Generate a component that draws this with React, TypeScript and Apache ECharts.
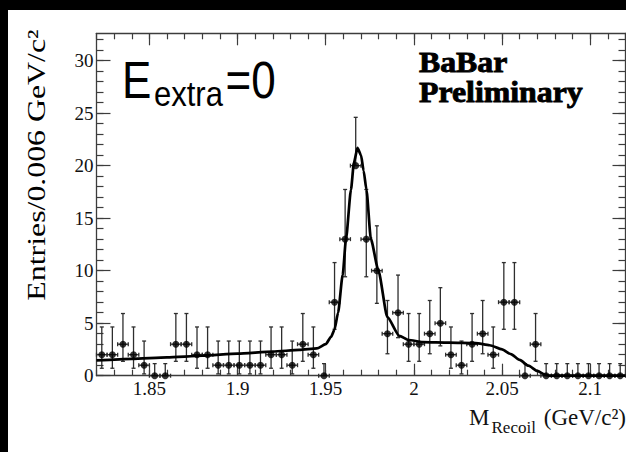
import { useEffect, useRef } from "react";
import * as echarts from "echarts";

// ---- data ----
const BIN_WIDTH = 0.006;
const BIN_CENTERS = [
  1.823, 1.829, 1.835, 1.841, 1.847, 1.853, 1.859, 1.865, 1.871, 1.877,
  1.883, 1.889, 1.895, 1.901, 1.907, 1.913, 1.919, 1.925, 1.931, 1.937,
  1.943, 1.949, 1.955, 1.961, 1.967, 1.973, 1.979, 1.985, 1.991, 1.997,
  2.003, 2.009, 2.015, 2.021, 2.027, 2.033, 2.039, 2.045, 2.051, 2.057,
  2.063, 2.069, 2.075, 2.081, 2.087, 2.093, 2.099, 2.105, 2.111, 2.117,
];
const COUNTS = [
  2, 2, 3, 2, 1, 0, 0, 3, 3, 2,
  2, 1, 1, 1, 1, 1, 2, 2, 1, 3,
  2, 0, 7, 13, 20, 13, 10, 4, 6, 3,
  3, 4, 5, 2, 1, 3, 4, 2, 7, 7,
  0, 3, 0, 0, 0, 0, 0, 0, 0, 0,
];
// error-bar edges for each count that occurs
const ERR_COUNT = [0, 1, 2, 3, 4, 5, 6, 7, 10, 13, 20];
const ERR_LOW = [0, 0.17, 0.71, 1.37, 2.09, 2.84, 3.62, 4.42, 6.89, 9.42, 20];
const ERR_HIGH = [1.15, 3.3, 4.64, 5.92, 7.16, 8.38, 9.58, 10.77, 14.27, 17.73, 24.6];

// fitted curve
const FIT_X = [
  1.82, 1.84, 1.86, 1.88, 1.9, 1.92, 1.935, 1.945, 1.95, 1.953, 1.955, 1.957,
  1.9596, 1.9615, 1.9643, 1.966, 1.968, 1.97, 1.9715, 1.9731, 1.9756, 1.9799,
  1.9849, 1.9917, 1.997, 2.005, 2.02, 2.035, 2.043, 2.05, 2.055, 2.06, 2.065,
  2.07, 2.0745, 2.077, 2.12,
];
const FIT_Y = [
  1.45, 1.6, 1.75, 1.9, 2.1, 2.3, 2.45, 2.6, 3.0, 3.7, 4.4, 6.0,
  9.6, 13.0, 17.7, 20.3, 21.7, 21.0, 19.5, 17.7, 13.0, 10.0,
  5.6, 3.8, 3.4, 3.2, 3.15, 3.1, 2.9, 2.5, 2.05, 1.5, 0.95,
  0.45, 0.1, 0, 0,
];

const X_MIN = 1.82;
const X_MAX = 2.12;
const Y_MIN = 0;
const Y_MAX = 32.6;
const X_MAJOR = [1.85, 1.9, 1.95, 2.0, 2.05, 2.1];
const X_LABELS = ["1.85", "1.9", "1.95", "2", "2.05", "2.1"];
const Y_MAJOR = [0, 5, 10, 15, 20, 25, 30];
const Y_LABELS = ["0", "5", "10", "15", "20", "25", "30"];
const X_MINOR = Array.from({ length: 31 }, (_, i) => Math.round((X_MIN + i * 0.01) * 1000) / 1000);
const Y_MINOR = Array.from({ length: 33 }, (_, i) => i);

const AXIS_COLOR = "#3c3c3c";
const SERIF = "'Liberation Serif', 'Times New Roman', serif";
const SANS = "'Liberation Sans', Arial, sans-serif";

function nearestLabel(v: number, vals: number[], labels: string[]) {
  let best = 0;
  for (let i = 1; i < vals.length; i++) {
    if (Math.abs(vals[i] - v) < Math.abs(vals[best] - v)) best = i;
  }
  return labels[best];
}

function xAxisCfg(position: string, ticks: number[], len: number, showLine: boolean, showLabels: boolean) {
  return {
    type: "value",
    position,
    min: X_MIN,
    max: X_MAX,
    gridIndex: 0,
    splitLine: { show: false },
    axisLine: { show: showLine, onZero: false, lineStyle: { color: AXIS_COLOR, width: 1.3 } },
    axisTick: { show: true, inside: true, length: len, customValues: ticks, lineStyle: { color: AXIS_COLOR, width: 1.2 } },
    axisLabel: {
      show: showLabels,
      customValues: ticks,
      margin: 3,
      color: "#111",
      fontFamily: SERIF,
      fontSize: 19,
      formatter: (v: number) => nearestLabel(v, X_MAJOR, X_LABELS),
    },
  };
}

function yAxisCfg(position: string, ticks: number[], len: number, showLine: boolean, showLabels: boolean) {
  return {
    type: "value",
    position,
    min: Y_MIN,
    max: Y_MAX,
    gridIndex: 0,
    splitLine: { show: false },
    axisLine: { show: showLine, onZero: false, lineStyle: { color: AXIS_COLOR, width: 1.3 } },
    axisTick: { show: true, inside: true, length: len, customValues: ticks, lineStyle: { color: AXIS_COLOR, width: 1.2 } },
    axisLabel: {
      show: showLabels,
      customValues: ticks,
      margin: 3,
      color: "#111",
      fontFamily: SERIF,
      fontSize: 19,
      formatter: (v: number) => nearestLabel(v, Y_MAJOR, Y_LABELS),
    },
  };
}

export default function App() {
  const ref = useRef<HTMLDivElement>(null);

  useEffect(() => {
    if (!ref.current) return;
    const chart = echarts.init(ref.current, undefined, { renderer: "svg" });

    const points = BIN_CENTERS.map((x, i) => {
      const n = COUNTS[i];
      const k = ERR_COUNT.indexOf(n);
      return [x, n, ERR_LOW[k], ERR_HIGH[k]];
    });
    const fit = FIT_X.map((x, i) => [x, FIT_Y[i]]);

    const barStyle = { stroke: "#2e2e2e", lineWidth: 1.3 };
    const CAP = 2;

    chart.setOption({
      animation: false,
      backgroundColor: "transparent",
      grid: { left: 96.5, top: 33.3, width: 529, height: 342.4 },
      xAxis: [
        xAxisCfg("bottom", X_MAJOR, 12, true, true),
        xAxisCfg("bottom", X_MINOR, 6, false, false),
        xAxisCfg("top", X_MAJOR, 12, true, false),
        xAxisCfg("top", X_MINOR, 6, false, false),
      ],
      yAxis: [
        yAxisCfg("left", Y_MAJOR, 14, true, true),
        yAxisCfg("left", Y_MINOR, 7, false, false),
        yAxisCfg("right", Y_MAJOR, 13, true, false),
        yAxisCfg("right", Y_MINOR, 7, false, false),
      ],
      series: [
        {
          type: "custom",
          xAxisIndex: 0,
          yAxisIndex: 0,
          z: 2,
          data: points,
          renderItem: (_params: any, api: any) => {
            const x = api.value(0);
            const y = api.value(1);
            const lo = api.value(2);
            const hi = api.value(3);
            const c = api.coord([x, y]);
            const pl = api.coord([x, lo]);
            const ph = api.coord([x, hi]);
            const xl = api.coord([x - BIN_WIDTH / 2, y]);
            const xr = api.coord([x + BIN_WIDTH / 2, y]);
            const children: any[] = [];
            const ln = (x1: number, y1: number, x2: number, y2: number) =>
              children.push({ type: "line", shape: { x1, y1, x2, y2 }, style: barStyle });
            if (ph[1] < c[1] - 0.5) {
              ln(c[0], c[1], ph[0], ph[1]);
              ln(ph[0] - CAP, ph[1], ph[0] + CAP, ph[1]);
            }
            if (pl[1] > c[1] + 0.5) {
              ln(c[0], c[1], pl[0], pl[1]);
              ln(pl[0] - CAP, pl[1], pl[0] + CAP, pl[1]);
            }
            ln(xl[0], xl[1], xr[0], xr[1]);
            ln(xl[0], xl[1] - CAP, xl[0], xl[1] + CAP);
            ln(xr[0], xr[1] - CAP, xr[0], xr[1] + CAP);
            return { type: "group", children };
          },
        },
        {
          type: "scatter",
          xAxisIndex: 0,
          yAxisIndex: 0,
          z: 3,
          symbol: "circle",
          symbolSize: 7,
          itemStyle: { color: "#000" },
          data: points.map((p) => [p[0], p[1]]),
        },
        {
          type: "line",
          xAxisIndex: 0,
          yAxisIndex: 0,
          z: 4,
          data: fit,
          showSymbol: false,
          smooth: 0.2,
          smoothMonotone: "x",
          lineStyle: { color: "#000", width: 2.7 },
        },
      ],
      graphic: [
        {
          type: "text",
          x: 37,
          y: 165,
          rotation: Math.PI / 2,
          scaleX: 1.3,
          style: { text: "Entries/0.006 GeV/c²", fontFamily: SERIF, fontSize: 24.5, fill: "#000", align: "center", verticalAlign: "middle" },
        },
        {
          type: "text",
          x: 122,
          y: 80,
          scaleY: 1.16,
          style: { text: "E", fontFamily: SANS, fontSize: 44, fill: "#000", align: "left", verticalAlign: "middle" },
        },
        {
          type: "text",
          x: 154,
          y: 93.5,
          scaleY: 1.16,
          style: { text: "extra", fontFamily: SANS, fontSize: 31, fill: "#000", align: "left", verticalAlign: "middle" },
        },
        {
          type: "text",
          x: 225.5,
          y: 80,
          scaleY: 1.16,
          style: { text: "=0", fontFamily: SANS, fontSize: 44, fill: "#000", align: "left", verticalAlign: "middle" },
        },
        {
          type: "text",
          x: 419,
          y: 61.7,
          scaleX: 1.06,
          style: { text: "BaBar", fontFamily: SERIF, fontSize: 30, fontWeight: "bold", fill: "#000", stroke: "#000", lineWidth: 0.9, align: "left", verticalAlign: "middle" },
        },
        {
          type: "text",
          x: 419,
          y: 92,
          scaleX: 1.06,
          style: { text: "Preliminary", fontFamily: SERIF, fontSize: 30, fontWeight: "bold", fill: "#000", stroke: "#000", lineWidth: 0.9, align: "left", verticalAlign: "middle" },
        },
        {
          type: "text",
          x: 469,
          y: 417.5,
          style: { text: "M", fontFamily: SERIF, fontSize: 23, fill: "#111", align: "left", verticalAlign: "middle" },
        },
        {
          type: "text",
          x: 491.5,
          y: 427.5,
          style: { text: "Recoil", fontFamily: SERIF, fontSize: 17, fill: "#111", align: "left", verticalAlign: "middle" },
        },
        {
          type: "text",
          x: 626,
          y: 417.5,
          style: { text: "(GeV/c²)", fontFamily: SERIF, fontSize: 23, fill: "#111", align: "right", verticalAlign: "middle" },
        },
      ],
    });

    return () => chart.dispose();
  }, []);

  return (
    <div style={{ position: "absolute", left: 0, top: 0, width: 626, height: 452, background: "#000", overflow: "hidden" }}>
      <div style={{ position: "absolute", left: 8, top: 10, width: 618, height: 442, background: "#fff" }} />
      <div ref={ref} style={{ position: "absolute", left: 0, top: 0, width: 626, height: 452 }} />
    </div>
  );
}
